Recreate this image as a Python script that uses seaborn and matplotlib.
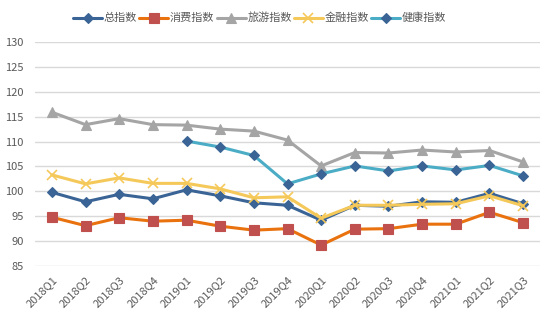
import matplotlib
matplotlib.use("Agg")
import matplotlib.pyplot as plt
import seaborn as sns
import pandas as pd
import numpy as np

quarters = ["2018Q1", "2018Q2", "2018Q3", "2018Q4", "2019Q1", "2019Q2", "2019Q3", "2019Q4",
            "2020Q1", "2020Q2", "2020Q3", "2020Q4", "2021Q1", "2021Q2", "2021Q3"]
total_idx = [99.8, 97.9, 99.4, 98.5, 100.3, 99.1, 97.7, 97.2, 94.2, 97.2, 97.0, 97.9, 97.8, 99.6, 97.5]
consume_idx = [94.8, 93.1, 94.7, 94.0, 94.2, 93.0, 92.2, 92.5, 89.2, 92.4, 92.5, 93.4, 93.4, 95.8, 93.7]
travel_idx = [115.9, 113.4, 114.6, 113.4, 113.3, 112.5, 112.1, 110.3, 105.1, 107.8, 107.7, 108.3, 107.9, 108.2, 105.9]
finance_idx = [103.3, 101.5, 102.7, 101.6, 101.6, 100.5, 98.7, 98.9, 94.6, 97.2, 97.2, 97.4, 97.5, 99.1, 97.1]
health_idx = [np.nan, np.nan, np.nan, np.nan, 110.1, 108.9, 107.2, 101.5, 103.5, 105.1, 104.1, 105.1, 104.3, 105.2, 103.1]
series_names = ["总指数", "消费指数", "旅游指数", "金融指数", "健康指数"]

sns.set_theme(style="white")
plt.rcParams['font.family'] = ['Noto Sans CJK SC', 'DejaVu Sans']

fig = plt.figure(figsize=(5.54, 3.23), dpi=100)
ax = fig.add_axes([35/554, 1 - 266/323, (540 - 35)/554, (266 - 42)/323])

styles = [
    dict(color="#3A6496", marker="D", mfc="#3A6496", mec="#3A6496", ms=5.5),
    dict(color="#E9720E", marker="s", mfc="#C0504D", mec="#C0504D", ms=6.5),
    dict(color="#A5A5A5", marker="^", mfc="#A5A5A5", mec="#A5A5A5", ms=7),
    dict(color="#F5C85A", marker="x", mfc="#F5C85A", mec="#F5C85A", ms=7, mew=1.2),
    dict(color="#4BACC6", marker="D", mfc="#3A6496", mec="#3A6496", ms=5.5),
]
all_series = [total_idx, consume_idx, travel_idx, finance_idx, health_idx]
x = np.arange(len(quarters))

for name, vals, st in zip(series_names, all_series, styles):
    df = pd.DataFrame({"x": x, "y": vals}).dropna()
    sns.lineplot(data=df, x="x", y="y", ax=ax, color=st["color"], lw=2.2,
                 marker=st["marker"], markerfacecolor=st["mfc"], markeredgecolor=st["mec"],
                 markersize=st["ms"], markeredgewidth=st.get("mew", 0.8), label=name, zorder=3)

ax.set_xlim(-0.5, len(quarters) - 0.5)
ax.set_ylim(85, 130)
ax.set_yticks(np.arange(85, 131, 5))
ax.set_xticks(x)
ax.set_xticklabels(quarters, rotation=45, ha="right", rotation_mode="anchor")
ax.set_xlabel("")
ax.set_ylabel("")
ax.grid(axis="y", color="#D9D9D9", lw=1)
ax.set_axisbelow(True)
for s in ax.spines.values():
    s.set_visible(False)
ax.tick_params(axis="both", length=0, labelsize=8, labelcolor="#595959")
ax.tick_params(axis="x", pad=6)
ax.tick_params(axis="y", pad=8)

leg = ax.legend(loc="center", bbox_to_anchor=(0.445, 1 + 24/224), ncol=5, frameon=False,
                fontsize=8, handlelength=2.6, handletextpad=0.15, columnspacing=0.2,
                borderaxespad=0)
for t in leg.get_texts():
    t.set_color("#595959")

fig.savefig("out.png", dpi=100)
